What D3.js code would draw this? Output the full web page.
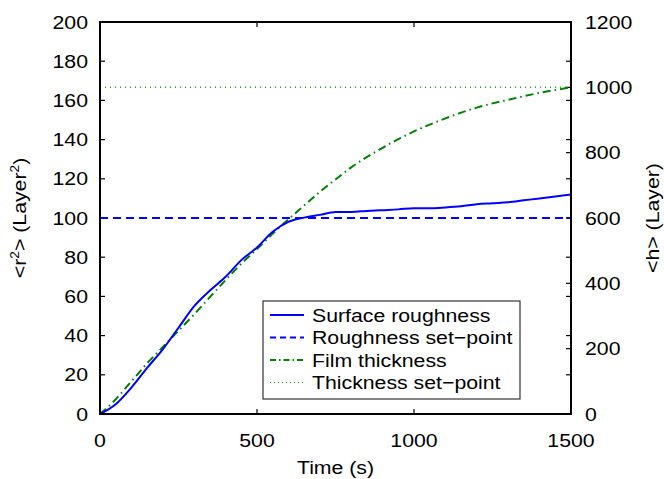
<!DOCTYPE html>
<html>
<head>
<meta charset="utf-8">
<script src="https://cdn.jsdelivr.net/npm/d3@7"></script>
<style>
  body { margin: 0; background: #fff; }
  text { font-family: "Liberation Sans", Arial, sans-serif; fill: #000; }
</style>
</head>
<body>
<div id="chart"></div>
<script>
// data
const timeTicks = [0, 500, 1000, 1500];
const roughTicks = [0, 20, 40, 60, 80, 100, 120, 140, 160, 180, 200];
const thickTicks = [0, 200, 400, 600, 800, 1000, 1200];

const roughTime = [0, 50, 100, 150, 200, 250, 300, 350, 400, 450, 500, 550, 600, 650, 700, 750, 800, 850, 900, 950, 1000, 1050, 1100, 1150, 1200, 1250, 1300, 1350, 1400, 1450, 1500];
const roughness = [0, 5, 13.5, 23.5, 33, 44, 55, 63, 70, 78.5, 85, 93, 98, 100.2, 101.6, 103, 103.1, 103.6, 104, 104.4, 105, 105, 105.4, 106, 107, 107.5, 108, 109, 110, 111, 112];

const thickTime = [0, 50, 100, 150, 200, 250, 300, 350, 400, 450, 500, 550, 600, 650, 700, 750, 800, 900, 1000, 1100, 1200, 1300, 1400, 1500];
const thickness = [0, 45, 100, 155, 205, 255, 305, 358, 410, 460, 505, 552, 596, 638, 680, 718, 755, 815, 865, 905, 938, 962, 983, 1000];

const roughSetPoint = 100;
const thickSetPoint = 1000;

const W = 664, H = 479;
const m = {left: 100, right: 93, top: 22, bottom: 65};
// text in the reference is drawn a bit wider than normal
const sx = 1.15;

const svg = d3.select('#chart').append('svg')
    .attr('width', W)
    .attr('height', H);

const x = d3.scaleLinear().domain([0, 1500]).range([m.left, W - m.right]);
const y = d3.scaleLinear().domain([0, 200]).range([H - m.bottom, m.top]);
const y2 = d3.scaleLinear().domain([0, 1200]).range([H - m.bottom, m.top]);

const x0 = m.left, x1 = W - m.right, yb = H - m.bottom, yt = m.top;

// ticks (inward, mirrored)
const tickLen = 5;
const ticks = svg.append('g').attr('stroke', '#000').attr('stroke-width', 1.2);
timeTicks.forEach(t => {
    ticks.append('line').attr('x1', x(t)).attr('x2', x(t)).attr('y1', yb).attr('y2', yb - tickLen);
    ticks.append('line').attr('x1', x(t)).attr('x2', x(t)).attr('y1', yt).attr('y2', yt + tickLen);
});
roughTicks.forEach(v => {
    ticks.append('line').attr('x1', x0).attr('x2', x0 + tickLen).attr('y1', y(v)).attr('y2', y(v));
    ticks.append('line').attr('x1', x1).attr('x2', x1 - tickLen).attr('y1', y(v)).attr('y2', y(v));
});
thickTicks.forEach(v => {
    ticks.append('line').attr('x1', x1).attr('x2', x1 - tickLen).attr('y1', y2(v)).attr('y2', y2(v));
});

// set-points
svg.append('line')
    .attr('x1', x(0)).attr('x2', x(1500))
    .attr('y1', y(roughSetPoint)).attr('y2', y(roughSetPoint))
    .attr('stroke', '#0000ff').attr('stroke-width', 2)
    .attr('stroke-dasharray', '8,5');

svg.append('line')
    .attr('x1', x(0)).attr('x2', x(1500))
    .attr('y1', y2(thickSetPoint)).attr('y2', y2(thickSetPoint))
    .attr('stroke', '#22aa22').attr('stroke-width', 1.5)
    .attr('stroke-dasharray', '1,4');

// film thickness
svg.append('path')
    .datum(thickTime.map((t, i) => [t, thickness[i]]))
    .attr('d', d3.line().x(d => x(d[0])).y(d => y2(d[1])).curve(d3.curveMonotoneX))
    .attr('fill', 'none')
    .attr('stroke', '#008000').attr('stroke-width', 2)
    .attr('stroke-dasharray', '8,4,1.5,4');

// surface roughness
svg.append('path')
    .datum(roughTime.map((t, i) => [t, roughness[i]]))
    .attr('d', d3.line().x(d => x(d[0])).y(d => y(d[1])).curve(d3.curveMonotoneX))
    .attr('fill', 'none')
    .attr('stroke', '#0000ff').attr('stroke-width', 2);

// frame
svg.append('rect')
    .attr('x', x0).attr('y', yt)
    .attr('width', x1 - x0).attr('height', yb - yt)
    .attr('fill', 'none').attr('stroke', '#000').attr('stroke-width', 2);

// tick labels
const fs = 18.5;
svg.append('g').selectAll('text').data(roughTicks).join('text')
    .attr('transform', d => `translate(${x0 - 12}, ${y(d)}) scale(${sx}, 1)`)
    .attr('dy', '0.36em').attr('text-anchor', 'end')
    .style('font-size', fs + 'px').text(d => d);

svg.append('g').selectAll('text').data(thickTicks).join('text')
    .attr('transform', d => `translate(${x1 + 14}, ${y2(d)}) scale(${sx}, 1)`)
    .attr('dy', '0.36em').attr('text-anchor', 'start')
    .style('font-size', fs + 'px').text(d => d);

svg.append('g').selectAll('text').data(timeTicks).join('text')
    .attr('transform', d => `translate(${x(d)}, ${yb + 33}) scale(${sx}, 1)`)
    .attr('text-anchor', 'middle')
    .style('font-size', fs + 'px').text(d => d);

// axis titles
svg.append('text')
    .attr('transform', `translate(${(x0 + x1) / 2}, ${yb + 60}) scale(${sx}, 1)`)
    .attr('text-anchor', 'middle')
    .style('font-size', fs + 'px').text('Time (s)');

const yl = svg.append('text')
    .attr('transform', `translate(26, ${(yt + yb) / 2}) rotate(-90) scale(${sx}, 1)`)
    .attr('text-anchor', 'middle')
    .style('font-size', fs + 'px');
yl.append('tspan').text('<r');
yl.append('tspan').attr('dy', -7).style('font-size', '12px').text('2');
yl.append('tspan').attr('dy', 7).text('> (Layer');
yl.append('tspan').attr('dy', -7).style('font-size', '12px').text('2');
yl.append('tspan').attr('dy', 7).text(')');

svg.append('text')
    .attr('transform', `translate(659, ${(yt + yb) / 2}) rotate(-90) scale(${sx}, 1)`)
    .attr('text-anchor', 'middle')
    .style('font-size', fs + 'px').text('<h> (Layer)');

// legend
const legend = svg.append('g').attr('transform', 'translate(263, 301)');
legend.append('rect')
    .attr('width', 257).attr('height', 98)
    .attr('fill', '#fff').attr('stroke', '#333').attr('stroke-width', 1.2);

const legendItems = [
    {label: 'Surface roughness', color: '#0000ff', width: 2, dash: null},
    {label: 'Roughness set\u2212point', color: '#0000ff', width: 2, dash: '6,4'},
    {label: 'Film thickness', color: '#008000', width: 2, dash: '6,3,1.5,3'},
    {label: 'Thickness set\u2212point', color: '#22aa22', width: 1.2, dash: '1,3'}
];

const li = legend.selectAll('g').data(legendItems).join('g')
    .attr('transform', (d, i) => `translate(0, ${14 + i * 22.5})`);
li.append('line')
    .attr('x1', 7).attr('x2', 41).attr('y1', 0).attr('y2', 0)
    .attr('stroke', d => d.color).attr('stroke-width', d => d.width)
    .attr('stroke-dasharray', d => d.dash);
li.append('text')
    .attr('transform', `translate(49, 0) scale(${sx}, 1)`)
    .attr('dy', '0.36em')
    .style('font-size', fs + 'px').text(d => d.label);
</script>
</body>
</html>
